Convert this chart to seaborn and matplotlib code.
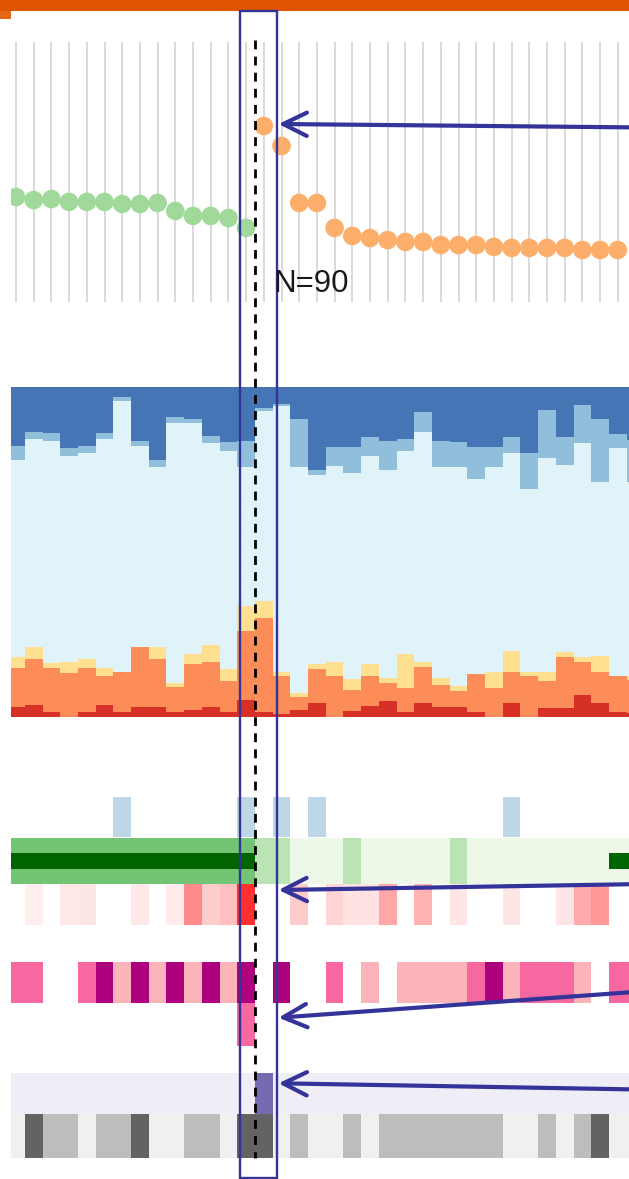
import numpy as np
import pandas as pd
import matplotlib
matplotlib.use("Agg")
import matplotlib.pyplot as plt
import seaborn as sns
from matplotlib.colors import ListedColormap, LinearSegmentedColormap
from matplotlib.patches import Rectangle

# ---------------------------------------------------------------- data
# score per period, before and after the change point
pre_scores = [40.4, 39.2, 39.6, 38.5, 38.5, 38.5, 37.7, 37.7, 38.1, 35.0,
              33.1, 33.1, 32.3, 28.5]
post_scores = [67.7, 60.0, 38.1, 38.1, 28.5, 25.4, 24.6, 23.8, 23.1, 23.1,
               21.9, 21.9, 21.9, 21.2, 20.8, 20.8, 20.8, 20.8, 20.0, 20.0, 20.0]
n_label = "N=90"

# composition per period (percent shares, bottom to top)
share_very_low = [2.9, 3.6, 1.5, 0.0, 1.5, 3.6, 1.5, 2.9, 2.9, 1.5, 2.0, 2.9,
                  1.5, 5.1, 1.5, 0.7, 2.0, 4.3, 0.0, 1.8, 3.3, 4.9, 1.3, 4.3,
                  2.9, 2.9, 1.3, 0.0, 4.3, 0.0, 2.7, 2.7, 6.6, 4.3, 1.3, 1.1]
share_low = [11.8, 13.9, 13.2, 13.2, 13.2, 8.9, 12.1, 18.4, 14.6, 7.6, 14.0,
             13.8, 9.4, 21.0, 28.4, 11.7, 3.9, 10.1, 12.4, 6.3, 9.0, 5.3, 7.3,
             10.9, 6.6, 5.0, 11.8, 8.6, 9.4, 12.4, 8.2, 15.5, 10.1, 9.4, 11.0,
             10.0]
share_mid_low = [3.5, 3.8, 1.5, 3.5, 2.7, 2.2, 0.0, 0.0, 3.8, 1.0, 3.0, 5.1,
                 3.5, 7.5, 5.3, 1.2, 1.4, 1.6, 4.3, 3.3, 3.6, 1.5, 10.4, 1.5,
                 2.2, 1.4, 0.0, 5.0, 6.1, 1.3, 2.7, 1.5, 1.5, 4.6, 0.0, 1.2]
share_mid_high = [59.7, 63.0, 67.5, 62.4, 62.7, 69.6, 82.0, 60.9, 54.6, 78.9,
                  70.1, 61.3, 66.3, 42.2, 57.6, 80.7, 68.5, 57.4, 59.4, 62.6,
                  63.1, 63.2, 61.6, 69.8, 64.1, 66.4, 58.9, 62.1, 60.2, 55.4,
                  64.8, 56.7, 64.8, 53.1, 69.1, 59.0]
share_high = [4.3, 2.3, 2.3, 2.4, 2.0, 1.8, 1.3, 1.5, 2.1, 2.0, 1.2, 2.1, 2.8,
              7.9, 0.9, 0.6, 14.6, 1.5, 5.9, 7.9, 5.9, 8.8, 3.6, 5.9, 8.0, 7.8,
              9.9, 6.3, 5.0, 11.1, 14.7, 8.6, 11.6, 18.9, 4.3, 12.7]
share_very_high = [17.8, 13.5, 14.0, 18.4, 17.8, 13.9, 3.0, 16.3, 22.1, 8.9,
                   9.6, 14.8, 16.5, 16.3, 6.3, 5.1, 9.6, 25.1, 18.0, 18.0,
                   15.0, 16.3, 15.8, 7.6, 16.3, 16.5, 18.0, 18.0, 15.0, 19.9,
                   6.9, 15.0, 5.4, 9.7, 14.2, 16.0]

# event tracks (0 = no event)
track_flag = [0, 0, 0, 0, 0, 0, 1, 0, 0, 0, 0, 0, 0, 1, 0, 1, 0, 1, 0, 0, 0, 0,
              0, 0, 0, 0, 0, 0, 1, 0, 0, 0, 0, 0, 0, 0]
track_phase = [3] * 14 + [2, 2, 1, 1, 1, 2, 1, 1, 1, 1, 1, 2] + [1] * 10
track_phase_core = [1] * 14 + [0] * 20 + [1, 1]
track_alert = [0, .07, 0, .09, .10, 0, 0, .09, 0, .08, .46, .20, .25, .81, 0,
               0, .20, 0, .17, .11, .11, .35, 0, .30, 0, .10, 0, 0, .10, 0, 0,
               .10, .33, .40, 0, 0]
track_load = [2, 2, 0, 0, 2, 3, 1, 3, 1, 3, 1, 3, 1, 3, 0, 3, 0, 0, 2, 0, 1, 0,
              1, 1, 1, 1, 2, 3, 1, 2, 2, 2, 1, 0, 2, 2]
track_load_extra = [0] * 13 + [2] + [0] * 22
track_switch = [1] * 14 + [3] + [1] * 21
track_state = [1, 3, 2, 2, 1, 2, 2, 3, 1, 1, 2, 2, 1, 3, 3, 1, 2, 1, 1, 2, 1,
               2, 2, 2, 2, 2, 2, 2, 1, 1, 2, 1, 2, 3, 1, 1]

# ---------------------------------------------------------------- layout
W, H = 629, 1179
sns.set_theme(style="white")
plt.rcParams["font.family"] = ["Liberation Sans", "DejaVu Sans"]

fig = plt.figure(figsize=(W / 100, H / 100), dpi=100)
fig.patch.set_facecolor("white")

LEFT_PX = 11
PITCH = 17.7
FIRST_PX = 16.0
XL = ((LEFT_PX - FIRST_PX) / PITCH, (W - FIRST_PX) / PITCH)


def px2col(px):
    return (px - FIRST_PX) / PITCH


def panel(top, bottom):
    ax = fig.add_axes([LEFT_PX / W, 1 - bottom / H, (W - LEFT_PX) / W,
                       (bottom - top) / H])
    ax.patch.set_alpha(0)
    return ax


n_cols = len(share_very_low)
cols = np.arange(n_cols)
split = len(pre_scores) - 0.5

# ---------------------------------------------------------------- dot panel
dots = pd.DataFrame({
    "col": np.arange(len(pre_scores) + len(post_scores)),
    "score": pre_scores + post_scores,
    "phase": ["pre"] * len(pre_scores) + ["post"] * len(post_scores),
})
ax = panel(42, 302)
ax.set_xticks(cols)
ax.set_yticks([])
ax.grid(axis="x", color="#d9d9d9", lw=1.4)
ax.set_axisbelow(True)
sns.scatterplot(data=dots, x="col", y="score", hue="phase",
                palette={"pre": "#a1d99b", "post": "#fdae6b"},
                s=180, linewidth=0, legend=False, ax=ax, zorder=3)
ax.set_xlim(XL)
ax.set_ylim(0, 100)
ax.tick_params(length=0, labelbottom=False, labelleft=False)
ax.set_xlabel("")
ax.set_ylabel("")
sns.despine(ax=ax, left=True, bottom=True)

# ---------------------------------------------------------------- stacked shares
levels = ["very_high", "high", "mid_high", "mid_low", "low", "very_low"]
series = [share_very_high, share_high, share_mid_high, share_mid_low,
          share_low, share_very_low]
level_colors = ["#4575b4", "#91bfdb", "#e0f3f8", "#fee090", "#fc8d59",
                "#d73027"]
palette = dict(zip(levels, level_colors))
shares = pd.concat([pd.DataFrame({"col": cols, "level": lv, "share": vals})
                    for lv, vals in zip(levels, series)], ignore_index=True)
ax = panel(387.3, 716.7)
sns.histplot(data=shares, x="col", weights="share", hue="level",
             hue_order=levels, palette=palette, multiple="fill",
             discrete=True, shrink=1, alpha=1, linewidth=0, legend=False,
             ax=ax)
ax.set_xlim(XL)
ax.set_ylim(0, 1)
ax.set_axis_off()


# ---------------------------------------------------------------- event tracks
def track(top, bottom, values, colors=None, cmap=None, vmin=None, vmax=None):
    ax = panel(top, bottom)
    arr = np.asarray(values, dtype=float)[None, :]
    if cmap is None:
        cmap = ListedColormap(colors)
        vmin, vmax = 0.5, len(colors) + 0.5
    sns.heatmap(arr, ax=ax, cmap=cmap, vmin=vmin, vmax=vmax, mask=arr == 0,
                cbar=False, xticklabels=False, yticklabels=False,
                linewidths=0)
    ax.set_xlim(XL[0] + 0.5, XL[1] + 0.5)
    ax.set_axis_off()
    return ax


track(797, 837, track_flag, ["#bdd7e7"])
track(838, 884, track_phase, ["#edf8e9", "#bae4b3", "#74c476"])
track(853, 869, track_phase_core, ["#006400"])
track(884, 925, track_alert,
      cmap=LinearSegmentedColormap.from_list("alert", ["#ffffff", "#ff0000"]),
      vmin=0, vmax=1)
pink = ["#fbb4b9", "#f768a1", "#ae017e"]
track(962, 1003, track_load, pink)
track(1003, 1046, track_load_extra, pink)
track(1073, 1114, track_switch, ["#efedf5", "#bcbddc", "#756bb1"])
track(1114, 1158, track_state, ["#f0f0f0", "#bdbdbd", "#636363"])

# ---------------------------------------------------------------- overlay
ov = fig.add_axes([LEFT_PX / W, 0, (W - LEFT_PX) / W, 1], zorder=10)
ov.set_xlim(XL)
ov.set_ylim(H, 0)
ov.set_axis_off()
ov.patch.set_alpha(0)

ov.plot([split, split], [40, 1158], color="black", lw=2.0,
        ls=(0, (3.2, 2.6)), solid_capstyle="butt")
ov.text(split + 1.05, 292, n_label, fontsize=22.5, color="#1a1a1a",
        ha="left", va="baseline")

navy = "#333399"
ov.add_patch(Rectangle((px2col(240), 10.7), px2col(277) - px2col(240), 1167,
                       fill=False, ec=navy, lw=1.7, clip_on=False))
tip_x = px2col(278.5)
tail_x = px2col(645)
for y_tip, y_tail in [(124, 127.5), (890, 884.0), (1017.7, 991.2),
                      (1083.3, 1089.6)]:
    ov.annotate("", xy=(tip_x, y_tip), xytext=(tail_x, y_tail),
                arrowprops=dict(arrowstyle="->,head_length=0.85,head_width=0.42",
                                color=navy, lw=3.0, shrinkA=0, shrinkB=0,
                                mutation_scale=20),
                annotation_clip=False)

# header band
fig.add_artist(Rectangle((0, 1 - 10.7 / H), 1, 10.7 / H,
                         transform=fig.transFigure, color="#e05500", lw=0))
fig.add_artist(Rectangle((0, 1 - 19 / H), LEFT_PX / W, 8.3 / H,
                         transform=fig.transFigure, color="#e05500", lw=0,
                         alpha=0.9))

fig.savefig("out.png", dpi=100)
